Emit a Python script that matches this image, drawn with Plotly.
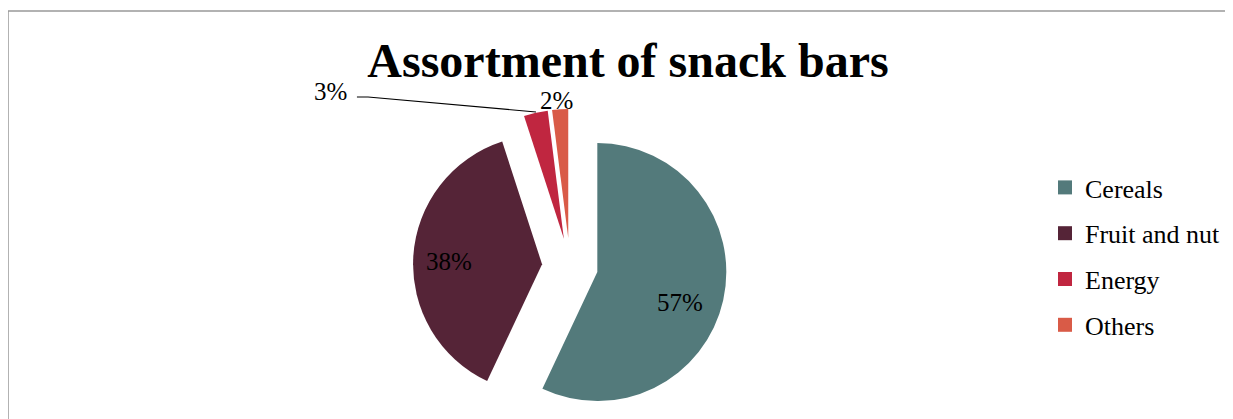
import plotly.graph_objects as go

categories = ["Cereals", "Fruit and nut", "Energy", "Others"]
shares = [57, 38, 3, 2]
colors = ["#537A7B", "#552437", "#C02640", "#D95B47"]
title_text = "Assortment of snack bars"

W, H = 1233, 419
OFF = 8  # page (body) offset of the figure in the browser

def px(x):
    return (x - OFF) / W

def py(y):
    return 1 - (y - OFF) / H

cx, cy = 570, 266
R, PULL = 129, 0.217
half = min(R * (1 + PULL), H - (cy - OFF))
hx = half + 20

fig = go.Figure()
fig.add_trace(go.Pie(
    labels=categories, values=shares,
    sort=False, direction="clockwise", rotation=0,
    marker=dict(colors=colors, line=dict(width=0)),
    pull=[PULL] * 4,
    textinfo="none",
    showlegend=False, hoverinfo="label+percent",
    domain=dict(x=[px(cx - hx), px(cx + hx)],
                y=[py(cy + half), py(cy - half)]),
))

for c, col in zip(categories, colors):
    fig.add_trace(go.Scatter(
        x=[None], y=[None], mode="markers", name=c, legendgroup=c,
        marker=dict(symbol="square", size=14, color=col),
    ))

# percentage label positions (screen px), texts come from the data
label_pos = [(680, 302), (448.5, 261), (331, 91), (556, 100)]
lab_font = dict(family="Liberation Serif", size=25, color="black")
annotations = [
    dict(text=f"{v}%", x=px(x), y=py(y), xref="paper", yref="paper",
         xanchor="center", yanchor="middle", showarrow=False, font=lab_font)
    for v, (x, y) in zip(shares, label_pos)
]

fig.update_layout(
    width=W, height=H,
    margin=dict(l=0, r=0, t=0, b=0),
    paper_bgcolor="white", plot_bgcolor="white",
    xaxis=dict(visible=False), yaxis=dict(visible=False),
    title=dict(text="<b>" + title_text + "</b>", x=px(628), xanchor="center",
               yref="container", y=py(60), yanchor="middle",
               font=dict(family="Liberation Serif", size=48, color="black")),
    legend=dict(x=px(1045), xanchor="left", y=py(164), yanchor="top",
                font=dict(family="Liberation Serif", size=26, color="black"),
                tracegroupgap=9, bgcolor="rgba(0,0,0,0)"),
    shapes=[dict(type="rect", xref="paper", yref="paper",
                 x0=px(8), x1=px(1260), y0=-0.2, y1=py(11),
                 line=dict(color="#999999", width=1.5), fillcolor="rgba(0,0,0,0)", layer="below")],
    annotations=annotations,
)
fig.add_shape(type="path", xref="paper", yref="paper",
              path="M {:.4f},{:.4f} L {:.4f},{:.4f} L {:.4f},{:.4f}".format(
                  px(357), py(97), px(368), py(97), px(536), py(112)),
              line=dict(color="black", width=1.2))

fig.write_html("out.html")
